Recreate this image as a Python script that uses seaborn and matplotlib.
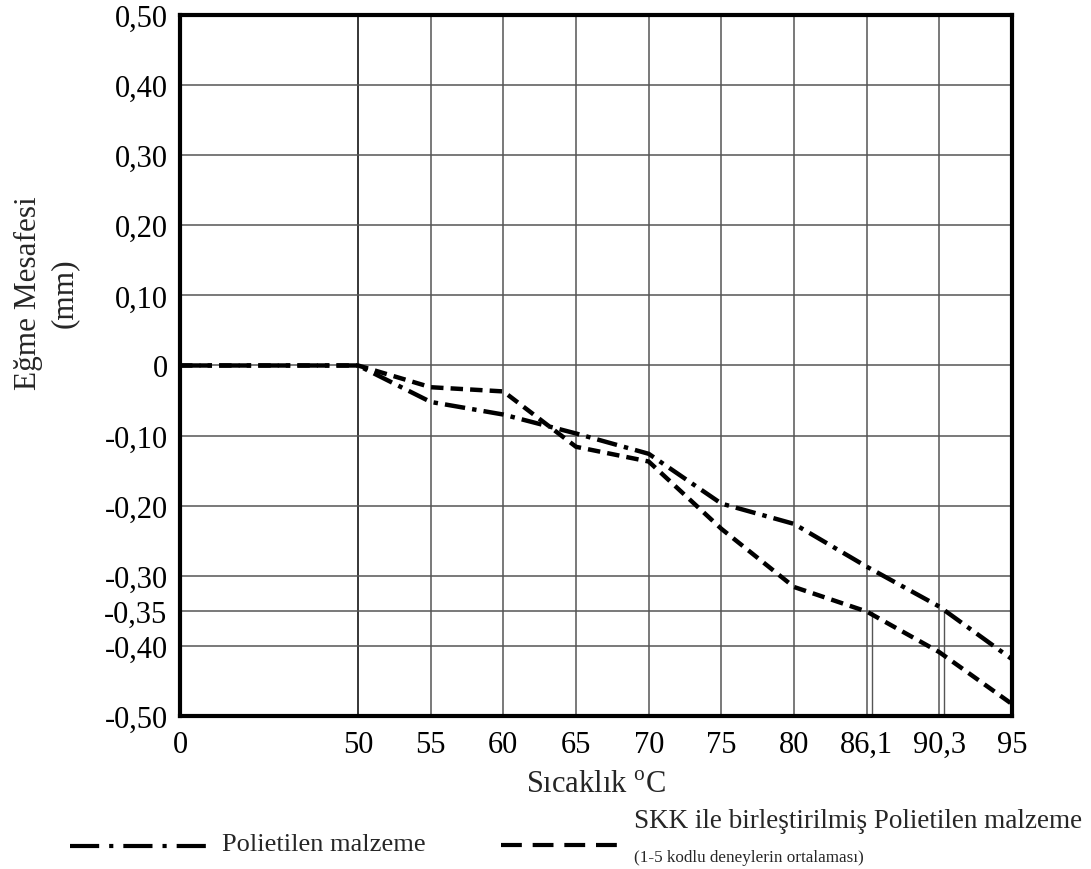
import numpy as np
import pandas as pd
import matplotlib
matplotlib.use("Agg")
import matplotlib.pyplot as plt
from matplotlib.lines import Line2D
import seaborn as sns

# Temperatures (°C) at which deflection was measured
temperatures = [0, 50, 55, 60, 65, 70, 75, 80, 86.1, 90.3, 95]
# Deflection (mm) of plain polyethylene
polietilen = [0.0, 0.0, -0.052, -0.070, -0.097, -0.126, -0.197, -0.226, -0.287, -0.344, -0.419]
# Deflection (mm) of SKK-joined polyethylene (mean of tests 1-5)
skk_polietilen = [0.0, 0.0, -0.031, -0.037, -0.116, -0.137, -0.233, -0.316, -0.351, -0.409, -0.483]

series_names = ["Polietilen malzeme", "SKK ile birleştirilmiş Polietilen malzeme"]
sub_label = "(1-5 kodlu deneylerin ortalaması)"

x_tick_values = [0, 50, 55, 60, 65, 70, 75, 80, 86.1, 90.3, 95]
x_tick_labels = ["0", "50", "55", "60", "65", "70", "75", "80", "86,1", "90,3", "95"]
y_tick_values = [0.5, 0.4, 0.3, 0.2, 0.1, 0.0, -0.1, -0.2, -0.3, -0.35, -0.4, -0.5]
y_tick_labels = ["0,50", "0,40", "0,30", "0,20", "0,10", "0", "-0,10", "-0,20",
                 "-0,30", "-0,35", "-0,40", "-0,50"]

# Temperatures where the curves reach -0,35 mm (marked by short drop lines)
crossing_temps = [86.4, 90.6]
crossing_level = -0.35

sns.set_theme(style="white")
plt.rcParams["font.family"] = ["Liberation Serif", "DejaVu Serif"]
plt.rcParams["mathtext.fontset"] = "custom"
plt.rcParams["mathtext.rm"] = "Liberation Serif"

# Evenly spaced tick axis: each listed temperature gets its own slot,
# with a wider gap between 0 and 50
slot_pos = np.array([0.0, 2.45, 3.45, 4.45, 5.45, 6.45, 7.45, 8.45, 9.45, 10.45, 11.45])
slot_temp = np.array(x_tick_values, dtype=float)


def forward(t):
    return np.interp(t, slot_temp, slot_pos)


def inverse(p):
    return np.interp(p, slot_pos, slot_temp)


df = pd.DataFrame({
    "Sıcaklık": temperatures * 2,
    "Eğme": polietilen + skk_polietilen,
    "Seri": [series_names[0]] * len(temperatures) + [series_names[1]] * len(temperatures),
})

fig = plt.figure(figsize=(10.91, 8.70), dpi=100)
ax = fig.add_axes([0.165, 0.1759, 0.7626, 0.8057])
ax.set_xscale("function", functions=(forward, inverse))

dash_styles = {series_names[0]: (4.6, 1.6, 1.0, 1.6), series_names[1]: (2.8, 1.6)}
sns.lineplot(data=df, x="Sıcaklık", y="Eğme", hue="Seri", style="Seri",
             palette=["black", "black"], dashes=dash_styles, linewidth=3.2,
             legend=False, ax=ax, zorder=5)

ax.set_xlim(0, 95)
ax.set_ylim(-0.5, 0.5)
ax.set_xticks(x_tick_values)
ax.set_xticklabels(x_tick_labels)
ax.set_yticks(y_tick_values)
ax.set_yticklabels(y_tick_labels)
ax.tick_params(axis="both", length=0, labelsize=22, colors="black")
ax.tick_params(axis="y", pad=9)
ax.tick_params(axis="x", pad=10)

# Grid
for t in x_tick_values[1:]:
    ax.axvline(t, color="black" if t == 50 else "#555555", lw=1.1, zorder=1)
for v in y_tick_values:
    ax.axhline(v, color="#555555", lw=1.1, zorder=1)
ax.vlines(crossing_temps, -0.5, crossing_level, color="#555555", lw=1.0, zorder=1)

for s in ax.spines.values():
    s.set_color("black")
    s.set_linewidth(3.0)

ax.set_xlabel("Sıcaklık $^{\\mathrm{o}}$C", fontsize=22, labelpad=8)
ax.set_ylabel("Eğme Mesafesi\n(mm)", fontsize=22.5, linespacing=1.35)
ax.yaxis.set_label_coords(-0.121, 0.605)

# Legend row beneath the axes
fig.add_artist(Line2D([70 / 1091, 207 / 1091], [1 - 847 / 870] * 2, color="black",
                      lw=3.0, dashes=(7.0, 2.4, 1.0, 2.4)))
fig.text(222 / 1091, 1 - 845 / 870, series_names[0], fontsize=19, va="center", ha="left")
fig.add_artist(Line2D([501 / 1091, 620 / 1091], [1 - 846 / 870] * 2, color="black",
                      lw=3.0, dashes=(5.0, 2.6)))
fig.text(634 / 1091, 1 - 822 / 870, series_names[1], fontsize=19.5, va="center", ha="left")
fig.text(634 / 1091, 1 - 858 / 870, sub_label, fontsize=12.3, va="center", ha="left")

fig.savefig("out.png", dpi=100, facecolor="white")
